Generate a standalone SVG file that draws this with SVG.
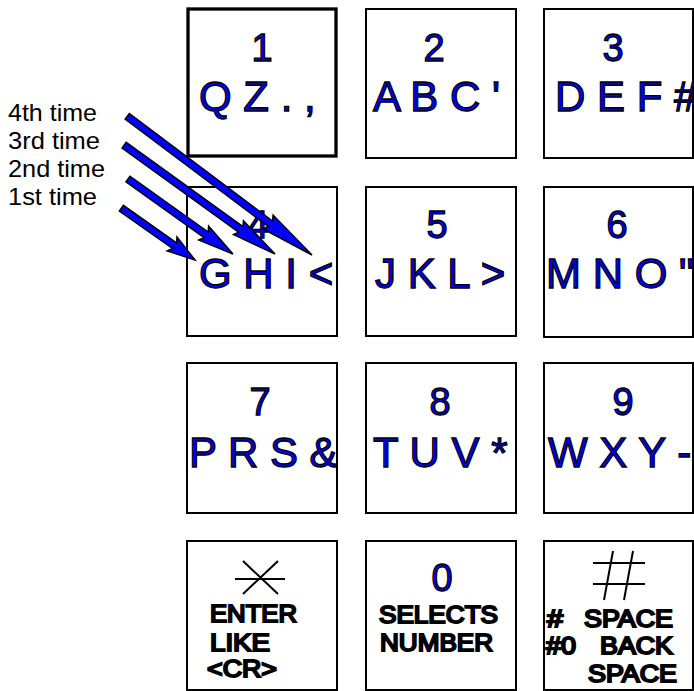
<svg xmlns="http://www.w3.org/2000/svg" width="694" height="691" viewBox="0 0 694 691">
<style>
.box{fill:#fff;stroke:#000;stroke-width:2}
.dig{font-family:"Liberation Sans",Arial,sans-serif;font-size:38px;fill:#0000ff;stroke:#000;stroke-width:1.3;text-anchor:middle}
.let{font-family:"Liberation Sans",Arial,sans-serif;font-size:42px;fill:#0000ff;stroke:#000;stroke-width:1.3}
.sm{font-family:"Liberation Sans",Arial,sans-serif;font-size:24px;fill:#0000ff;stroke:#000;stroke-width:2}
.lbl{font-family:"Liberation Sans",Arial,sans-serif;font-size:24px;fill:#000}
.sym{stroke:#000;stroke-width:2;fill:none}
.arr{fill:#0000ff;stroke:#000;stroke-width:1.5;stroke-linejoin:miter}
</style>
<rect width="694" height="691" fill="#fff"/>
<g id="labels">
<text class="lbl" x="8" y="121" textLength="89" lengthAdjust="spacingAndGlyphs">4th time</text>
<text class="lbl" x="8" y="149" textLength="92" lengthAdjust="spacingAndGlyphs">3rd time</text>
<text class="lbl" x="8" y="177" textLength="97" lengthAdjust="spacingAndGlyphs">2nd time</text>
<text class="lbl" x="8" y="205" textLength="89" lengthAdjust="spacingAndGlyphs">1st time</text>
</g>
<g id="key1">
<rect class="box" x="188" y="9" width="148" height="147" style="stroke-width:3.3"/>
<text class="dig" x="262" y="61">1</text>
<text class="let" x="199" y="111">Q Z . ,</text>
</g>
<g id="key2">
<rect class="box" x="366" y="9" width="150" height="149"/>
<text class="dig" x="434" y="61">2</text>
<text class="let" x="373" y="111">A B C '</text>
</g>
<g id="key3">
<rect class="box" x="544" y="9" width="149" height="149"/>
<text class="dig" x="613" y="61">3</text>
<text class="let" x="555" y="111">D E F #</text>
</g>
<g id="key4">
<rect class="box" x="187" y="187" width="150" height="149"/>
<text class="dig" x="258" y="238">4</text>
<text class="let" x="199" y="288">G H I &lt;</text>
</g>
<g id="key5">
<rect class="box" x="366" y="187" width="150" height="149"/>
<text class="dig" x="437" y="238">5</text>
<text class="let" x="375" y="288">J K L &gt;</text>
</g>
<g id="key6">
<rect class="box" x="544" y="187" width="149" height="150"/>
<text class="dig" x="617" y="238">6</text>
<text class="let" x="546" y="288">M N O "</text>
</g>
<g id="key7">
<rect class="box" x="187" y="363" width="150" height="150"/>
<text class="dig" x="260" y="415">7</text>
<text class="let" x="189" y="467">P R S &amp;</text>
</g>
<g id="key8">
<rect class="box" x="366" y="363" width="150" height="150"/>
<text class="dig" x="440" y="415">8</text>
<text class="let" x="373" y="467">T U V *</text>
</g>
<g id="key9">
<rect class="box" x="544" y="363" width="149" height="150"/>
<text class="dig" x="623" y="415">9</text>
<text class="let" x="548" y="467">W X Y -</text>
</g>
<g id="keystar">
<rect class="box" x="187" y="541" width="150" height="149"/>
<path class="sym" d="M235,579 H285 M243,561 L278,594 M278,561 L243,594"/>
<text class="sm" x="210" y="622" textLength="87" lengthAdjust="spacingAndGlyphs">ENTER</text>
<text class="sm" x="210" y="651" textLength="60" lengthAdjust="spacingAndGlyphs">LIKE</text>
<text class="sm" x="207" y="677" textLength="70" lengthAdjust="spacingAndGlyphs">&lt;CR&gt;</text>
</g>
<g id="key0">
<rect class="box" x="366" y="541" width="150" height="149"/>
<text class="dig" x="442" y="591">0</text>
<text class="sm" x="379" y="623" textLength="119" lengthAdjust="spacingAndGlyphs">SELECTS</text>
<text class="sm" x="380" y="651" textLength="113" lengthAdjust="spacingAndGlyphs">NUMBER</text>
</g>
<g id="keyhash">
<rect class="box" x="544" y="541" width="149" height="149"/>
<path class="sym" d="M593,563 H645 M593,584 H645 M613,551 L604,600 M633,551 L624,600"/>
<text class="sm" x="547" y="627" textLength="16" lengthAdjust="spacingAndGlyphs">#</text>
<text class="sm" x="584" y="627" textLength="89" lengthAdjust="spacingAndGlyphs">SPACE</text>
<text class="sm" x="546" y="654" textLength="30" lengthAdjust="spacingAndGlyphs">#0</text>
<text class="sm" x="600" y="654" textLength="73" lengthAdjust="spacingAndGlyphs">BACK</text>
<text class="sm" x="588" y="682" textLength="89" lengthAdjust="spacingAndGlyphs">SPACE</text>
</g>
<g id="connectors">
<polygon class="arr" transform="translate(312,255) rotate(36.9)" points="0,0 -55,-8.5 -52,-3.5 -231,-3.5 -231,3.5 -52,3.5 -55,8.5"/>
<polygon class="arr" transform="translate(275,254) rotate(35.8)" points="0,0 -45,-8.5 -42,-3.5 -186,-3.5 -186,3.5 -42,3.5 -45,8.5"/>
<polygon class="arr" transform="translate(233,254) rotate(35.5)" points="0,0 -36,-8.5 -33,-3.5 -129,-3.5 -129,3.5 -33,3.5 -36,8.5"/>
<polygon class="arr" transform="translate(195,260) rotate(35.1)" points="0,0 -28,-8.5 -25,-3.5 -90,-3.5 -90,3.5 -25,3.5 -28,8.5"/>
</g>
</svg>
